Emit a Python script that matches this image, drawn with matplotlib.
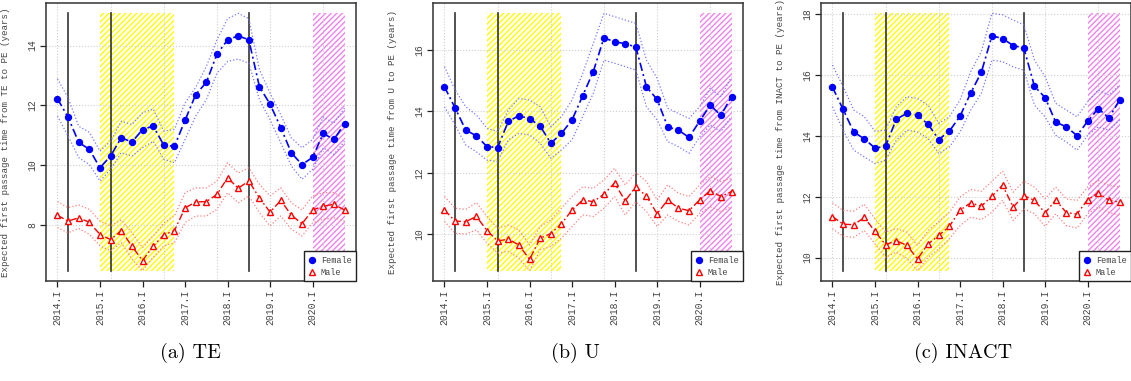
import matplotlib
matplotlib.use("Agg")
import matplotlib.pyplot as plt
from matplotlib.patches import Rectangle
from matplotlib.lines import Line2D
import numpy as np

quarters = [f"{y}.{q}" for y in range(2014, 2021) for q in ["I", "II", "III", "IV"]]
tick_idx = [0, 4, 8, 12, 16, 20, 24]
grid_idx = [0, 5, 10, 15, 20, 25]
vline_idx = [1, 5, 18]
yellow_span = (4, 11)
pink_span = (24, 27)

# TE -> PE
te_female = [12.22, 11.60, 10.76, 10.53, 9.91, 10.31, 10.92, 10.77, 11.19, 11.31, 10.67, 10.63, 11.50, 12.36,
             12.77, 13.71, 14.19, 14.33, 14.19, 12.62, 12.04, 11.26, 10.41, 10.02, 10.26, 11.06, 10.86, 11.38]
te_female_hi = [12.89, 12.25, 11.30, 11.10, 10.47, 10.80, 11.47, 11.36, 11.75, 11.88, 11.14, 11.20, 12.08, 12.60,
                13.30, 14.19, 14.90, 15.08, 14.90, 13.19, 12.41, 11.69, 10.91, 10.58, 10.86, 11.61, 11.41, 11.91]
te_female_lo = [11.64, 10.97, 10.25, 10.02, 9.47, 9.86, 10.42, 10.30, 10.58, 10.80, 10.20, 10.08, 10.86, 11.64,
                12.19, 13.08, 13.47, 13.55, 13.41, 12.19, 11.52, 10.75, 9.97, 9.53, 9.86, 10.58, 10.36, 10.80]
te_male = [8.32, 8.13, 8.24, 8.09, 7.68, 7.51, 7.81, 7.29, 6.81, 7.29, 7.67, 7.81, 8.57, 8.77,
           8.78, 9.02, 9.58, 9.23, 9.47, 8.90, 8.43, 8.82, 8.33, 8.04, 8.50, 8.63, 8.69, 8.50]
te_male_hi = [8.78, 8.58, 8.67, 8.52, 8.13, 7.97, 8.17, 7.74, 7.24, 7.63, 8.07, 8.30, 9.08, 9.24,
              9.24, 9.47, 10.08, 9.74, 9.91, 9.36, 8.97, 9.24, 8.74, 8.50, 8.97, 9.08, 9.08, 8.86]
te_male_lo = [7.91, 7.74, 7.88, 7.69, 7.30, 7.13, 7.41, 6.86, 6.47, 6.92, 7.30, 7.41, 8.08, 8.30,
              8.30, 8.52, 9.08, 8.74, 8.97, 8.41, 7.97, 8.30, 7.86, 7.63, 8.08, 8.19, 8.24, 8.13]

# U -> PE
u_female = [14.80, 14.11, 13.39, 13.20, 12.85, 12.82, 13.67, 13.86, 13.76, 13.52, 12.96, 13.28, 13.72, 14.51,
            15.30, 16.40, 16.27, 16.21, 16.10, 14.80, 14.39, 13.49, 13.39, 13.15, 13.68, 14.20, 13.87, 14.48]
u_female_hi = [15.46, 14.70, 14.15, 13.88, 13.45, 13.34, 14.04, 14.42, 14.37, 14.15, 13.50, 13.83, 14.37, 15.24,
               16.22, 17.20, 17.09, 16.98, 16.87, 15.67, 15.08, 14.10, 13.93, 13.77, 14.15, 14.75, 14.48, 15.13]
u_female_lo = [14.15, 13.55, 12.90, 12.68, 12.41, 12.36, 13.07, 13.28, 13.23, 12.96, 12.47, 12.74, 13.07, 13.83,
               14.59, 15.67, 15.57, 15.46, 15.35, 14.15, 13.72, 13.01, 12.85, 12.63, 13.17, 13.55, 13.34, 13.83]
u_male = [10.78, 10.42, 10.40, 10.57, 10.11, 9.77, 9.83, 9.64, 9.17, 9.86, 10.01, 10.33, 10.78, 11.11,
          11.05, 11.30, 11.66, 11.08, 11.54, 11.23, 10.66, 11.11, 10.84, 10.76, 11.11, 11.41, 11.22, 11.38]
u_male_hi = [11.22, 10.84, 10.80, 11.02, 10.57, 10.18, 10.29, 10.13, 9.64, 10.24, 10.46, 10.84, 11.22, 11.54,
             11.49, 11.76, 12.14, 11.60, 12.00, 11.71, 11.11, 11.60, 11.33, 11.22, 11.60, 11.87, 11.71, 11.82]
u_male_lo = [10.41, 10.02, 10.00, 10.13, 9.70, 9.38, 9.43, 9.21, 8.80, 9.48, 9.59, 9.86, 10.24, 10.62,
             10.57, 10.84, 11.22, 10.62, 11.05, 10.73, 10.24, 10.62, 10.41, 10.29, 10.67, 10.89, 10.73, 10.89]

# INACT -> PE
inact_female = [15.60, 14.87, 14.13, 13.90, 13.60, 13.66, 14.55, 14.74, 14.68, 14.38, 13.88, 14.16, 14.65, 15.41,
                16.09, 17.29, 17.20, 16.97, 16.89, 15.63, 15.26, 14.45, 14.30, 14.01, 14.48, 14.90, 14.59, 15.18]
inact_female_hi = [16.33, 15.62, 14.85, 14.63, 14.15, 14.19, 14.96, 15.29, 15.23, 15.01, 14.41, 14.63, 15.18, 16.11,
                   16.77, 18.03, 17.98, 17.81, 17.65, 16.49, 15.95, 15.07, 14.85, 14.63, 15.12, 15.51, 15.34, 15.67]
inact_female_lo = [14.96, 14.19, 13.53, 13.31, 13.09, 13.20, 13.86, 14.19, 14.13, 13.91, 13.42, 13.64, 14.13, 14.85,
                   15.40, 16.49, 16.44, 16.27, 16.16, 15.01, 14.63, 14.02, 13.80, 13.53, 14.02, 14.30, 14.19, 14.52]
inact_male = [11.35, 11.10, 11.08, 11.32, 10.86, 10.42, 10.56, 10.40, 9.96, 10.45, 10.73, 11.03, 11.56, 11.80,
              11.69, 12.02, 12.38, 11.66, 12.04, 11.88, 11.47, 11.89, 11.48, 11.43, 11.91, 12.12, 11.89, 11.82]
inact_male_hi = [11.80, 11.55, 11.53, 11.75, 11.27, 10.84, 10.95, 10.84, 10.40, 10.89, 11.19, 11.49, 11.99, 12.24,
                 12.18, 12.51, 12.84, 12.15, 12.51, 12.32, 11.93, 12.32, 11.93, 11.88, 12.32, 12.54, 12.37, 12.32]
inact_male_lo = [10.95, 10.70, 10.67, 10.89, 10.45, 10.01, 10.18, 9.98, 9.57, 10.01, 10.29, 10.62, 11.05, 11.33,
                 11.25, 11.49, 11.88, 11.22, 11.60, 11.44, 11.03, 11.44, 11.05, 10.97, 11.44, 11.66, 11.49, 11.38]

panels = [
    ("TE", "(a) TE", te_female, te_female_lo, te_female_hi, te_male, te_male_lo, te_male_hi),
    ("U", "(b) U", u_female, u_female_lo, u_female_hi, u_male, u_male_lo, u_male_hi),
    ("INACT", "(c) INACT", inact_female, inact_female_lo, inact_female_hi, inact_male, inact_male_lo, inact_male_hi),
]

MONO = ["Liberation Mono", "DejaVu Sans Mono"]
TXT = "#444444"
plt.rcParams["hatch.linewidth"] = 1.0

fig = plt.figure(figsize=(11.31, 3.81), dpi=100)
W, H = 1131.0, 381.0
lefts = [46, 433, 821]
caption_x = [190, 575, 963]

for k, (state, caption, f, flo, fhi, m, mlo, mhi) in enumerate(panels):
    ax = fig.add_axes([lefts[k] / W, (H - 281) / H, 310 / W, 278 / H])
    x = np.arange(len(quarters))
    lo = min(min(flo), min(mlo))
    hi = max(max(fhi), max(mhi))
    pad = 0.04 * (hi - lo)
    ax.set_xlim(-0.04 * 27, 27 * 1.04)
    ax.set_ylim(lo - pad, hi + pad)

    # shaded periods, dense diagonal hatching
    ax.add_patch(Rectangle((yellow_span[0], lo), yellow_span[1] - yellow_span[0], hi - lo,
                           facecolor="none", edgecolor="#ffff00", hatch="//////", linewidth=0, zorder=1))
    ax.add_patch(Rectangle((pink_span[0], lo), pink_span[1] - pink_span[0], hi - lo,
                           facecolor="none", edgecolor="#ee82ee", hatch="//////", linewidth=0, zorder=1))

    for g in grid_idx:
        ax.axvline(g, color="#cfcfcf", lw=0.8, ls=":", zorder=2)
    yt = np.arange(np.ceil(lo / 2) * 2, hi + 0.01, 2)
    for t in yt:
        ax.axhline(t, color="#cfcfcf", lw=0.8, ls=":", zorder=2)

    for v in vline_idx:
        ax.plot([v, v], [lo, hi], color="#333333", lw=1.2, zorder=3)

    # confidence bands
    ax.plot(x, fhi, color="#7878ff", lw=0.9, ls=":", zorder=4)
    ax.plot(x, flo, color="#7878ff", lw=0.9, ls=":", zorder=4)
    ax.plot(x, mhi, color="#ff8080", lw=0.9, ls=":", zorder=4)
    ax.plot(x, mlo, color="#ff8080", lw=0.9, ls=":", zorder=4)

    ax.plot(x, f, color="#0000ff", lw=1.2, dashes=(5, 2, 1.2, 2), marker="o", ms=4.3,
            mfc="#0000ff", mec="#0000ff", zorder=5)
    ax.plot(x, m, color="#ff0000", lw=1.0, dashes=(5, 2, 1.2, 2), marker="^", ms=4.8,
            mfc="white", mec="#ff0000", mew=1.0, zorder=5)

    ax.set_xticks(tick_idx)
    ax.set_xticklabels([quarters[i] for i in tick_idx], rotation=90, family=MONO, fontsize=7, color=TXT)
    ax.set_yticks(yt)
    ax.set_yticklabels([f"{int(t)}" for t in yt], rotation=90, va="center", family=MONO,
                       fontsize=7, color=TXT)
    ax.tick_params(length=4, width=0.9, color="#222222", pad=2.5)
    ax.set_ylabel(f"Expected first passage time from {state} to PE (years)", family=MONO,
                  fontsize=6.6, color=TXT)
    ax.yaxis.set_label_coords(-0.116, 0.5)
    for s in ax.spines.values():
        s.set_color("#333333")
        s.set_linewidth(1.1)

    handles = [Line2D([], [], ls="none", marker="o", ms=4.3, mfc="#0000ff", mec="#0000ff"),
               Line2D([], [], ls="none", marker="^", ms=4.8, mfc="white", mec="#ff0000", mew=1.0)]
    leg = ax.legend(handles, ["Female", "Male"], loc="lower right", borderaxespad=0,
                    prop={"family": MONO, "size": 6.2}, fancybox=False, framealpha=1,
                    edgecolor="#222222", handlelength=1.0, handletextpad=0.5,
                    labelspacing=0.35, borderpad=0.5)
    leg.get_frame().set_linewidth(1.0)
    for t in leg.get_texts():
        t.set_color(TXT)
    leg.set_zorder(10)

    fig.text(caption_x[k] / W, 1 - 353 / H, caption, ha="center", va="center",
             family=["cmr10", "DejaVu Serif"], fontsize=14.5)

fig.savefig("out.png", dpi=100)
